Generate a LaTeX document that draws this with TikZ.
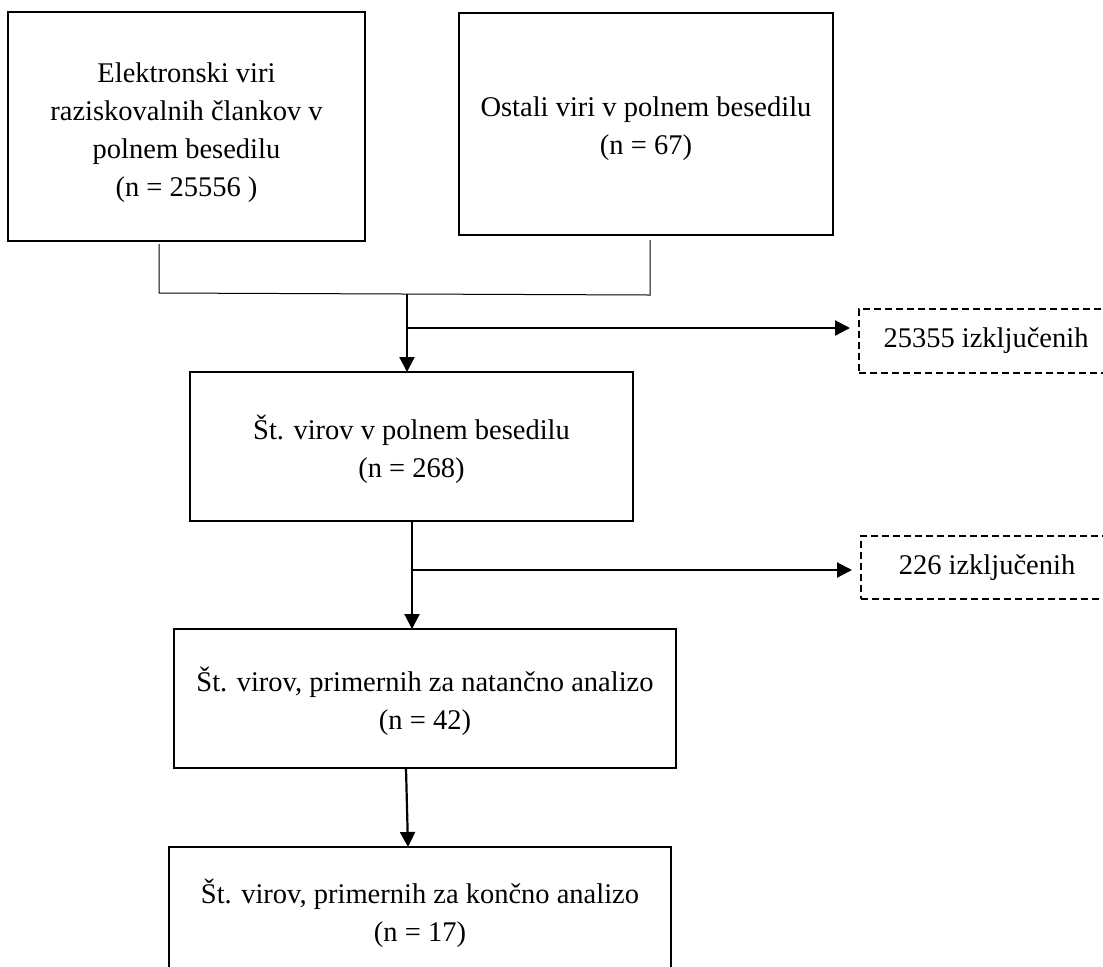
\documentclass[tikz,border=0pt]{standalone}
\usepackage{fontspec}
\setmainfont{Liberation Serif}
\usetikzlibrary{arrows.meta,calc}
\newlength\pxu
\setlength\pxu{0.5pt}
\tikzset{
  boxnode/.style={draw, line width=1.1pt, inner sep=0pt, outer sep=0pt},
  textnode/.style={inner sep=0pt, outer sep=0pt, align=center,
    font=\fontsize{14.25}{19}\selectfont},
  exclnode/.style={draw, line width=0.7pt, dash pattern=on 3.5pt off 2pt, inner sep=0pt,
    outer sep=0pt, align=center, font=\fontsize{14.25}{19}\selectfont},
  thinline/.style={line width=0.5pt},
  arrowline/.style={line width=1.1pt, -{Triangle[length=7.5pt,width=7.5pt]}},
}
\begin{document}
\begin{tikzpicture}[x=0.5pt,y=-0.5pt]
\useasboundingbox (0,0) rectangle (1103,966);
% box frames
\node[boxnode, minimum width=357\pxu, minimum height=229\pxu] (b1) at (186.5,126.5) {};
\node[boxnode, minimum width=374\pxu, minimum height=222\pxu] (b2) at (646,124) {};
\node[boxnode, minimum width=443\pxu, minimum height=149\pxu] (b3) at (411.5,446.5) {};
\node[boxnode, minimum width=502\pxu, minimum height=139\pxu] (b4) at (425,698.5) {};
\node[boxnode, minimum width=502\pxu, minimum height=139\pxu] (b5) at (420,916.5) {};
% box texts
\node[textnode] (b1t) at ($(b1.center)+(0,6)$)
  {Elektronski viri\\raziskovalnih člankov v\\polnem besedilu\\(n = 25556 )};
\node[textnode] (b2t) at ($(b2.center)+(0,5)$)
  {Ostali viri v polnem besedilu\\(n = 67)};
\node[textnode] (b3t) at ($(b3.center)+(0,3)$)
  {Št. virov v polnem besedilu\\(n = 268)};
\node[textnode] (b4t) at ($(b4.center)+(0,3)$)
  {Št. virov, primernih za natančno analizo\\(n = 42)};
\node[textnode] (b5t) at ($(b5.center)+(0,-3)$)
  {Št. virov, primernih za končno analizo\\(n = 17)};
% exclusion boxes
\node[exclnode, minimum width=254\pxu, minimum height=64\pxu] (d1) at (986,341)
  {25355 izključenih};
\node[exclnode, minimum width=252\pxu, minimum height=63\pxu] (d2) at (987,567.5)
  {226 izključenih};
% connector points
\coordinate (L1) at (159,244);
\coordinate (L2) at (159,293);
\coordinate (R1) at (650,240);
\coordinate (R2) at (650,295);
\coordinate (J) at (407,294);
\coordinate (B1) at (407,328);
\coordinate (T2) at (412,521);
\coordinate (B2) at (412,570);
\coordinate (T3a) at (406,768);
\coordinate (T3b) at (408,848);
% bracket joining the two sources
\draw[thinline] (L1) -- (L2) -- (R2) -- (R1);
% flow
\draw[arrowline] (J) -- (J |- b3.north);
\draw[arrowline, shorten >=4.5pt] (B1) -- (B1 -| d1.west);
\draw[arrowline] (T2 |- b3.south) -- (T2 |- b4.north);
\draw[arrowline, shorten >=4.5pt] (B2) -- (B2 -| d2.west);
\draw[arrowline] (T3a |- b4.south) -- (T3b |- b5.north);
\end{tikzpicture}
\end{document}
